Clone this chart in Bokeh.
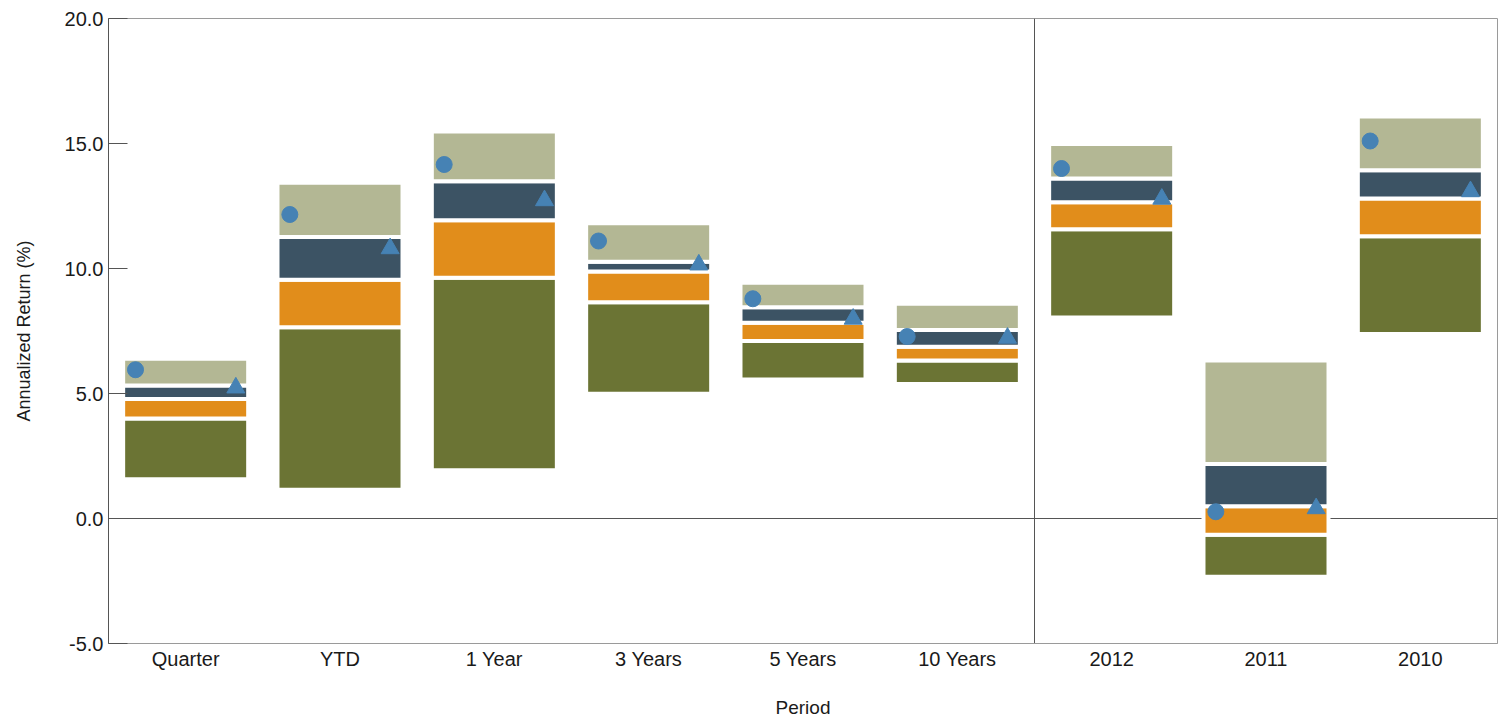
from bokeh.plotting import figure
from bokeh.models import ColumnDataSource, Range1d, FactorRange, Span, FixedTicker, PrintfTickFormatter
from bokeh.transform import dodge
from bokeh.embed import file_html
from bokeh.resources import INLINE

# ---- data ----
periods = ["Quarter", "YTD", "1 Year", "3 Years", "5 Years", "10 Years", "2012", "2011", "2010"]
pct05 = [1.57, 1.15, 1.93, 4.99, 5.56, 5.38, 8.04, -2.33, 7.38]
pct25 = [4.00, 7.65, 9.63, 8.65, 7.10, 6.32, 11.57, -0.65, 11.29]
pct50 = [4.78, 9.55, 11.93, 9.88, 7.83, 6.87, 12.65, 0.49, 12.80]
pct75 = [5.32, 11.26, 13.49, 10.27, 8.45, 7.54, 13.60, 2.18, 13.93]
pct95 = [6.39, 13.43, 15.48, 11.81, 9.43, 8.59, 14.98, 6.32, 16.08]
circle_values = [5.95, 12.16, 14.16, 11.10, 8.79, 7.28, 14.00, 0.27, 15.10]
triangle_values = [5.23, 10.80, 12.72, 10.15, 7.98, 7.22, 12.78, 0.40, 13.08]
y_ticks = [-5, 0, 5, 10, 15, 20]

src = ColumnDataSource(dict(period=periods, p05=pct05, p25=pct25, p50=pct50,
                            p75=pct75, p95=pct95, circ=circle_values, tri=triangle_values))

FONT = "Liberation Sans"
TXT = "#1a1a1a"

p = figure(x_range=FactorRange(*periods, range_padding=0), y_range=Range1d(-5, 20),
           width=1499, height=720, output_backend="svg", toolbar_location=None,
           min_border_left=108, min_border_right=2, min_border_top=18, min_border_bottom=76)
p.background_fill_color = "white"
p.border_fill_color = "white"
p.outline_line_color = "#9a9a9a"
p.outline_line_width = 1
p.xgrid.visible = False
p.ygrid.visible = False

p.add_layout(Span(location=0, dimension="width", line_color="#555555", line_width=1, level="underlay"))
p.add_layout(Span(location=6, dimension="height", line_color="#555555", line_width=1, level="underlay"))

W = 0.81
segs = [("p05", "p25", "#6B7434"), ("p25", "p50", "#E18D1B"),
        ("p50", "p75", "#3C5364"), ("p75", "p95", "#B3B794")]
for b, t, c in segs:
    p.vbar(x="period", bottom=b, top=t, width=W, source=src, fill_color=c,
           line_color="white", line_width=4)

p.scatter(x=dodge("period", -0.325, range=p.x_range), y="circ", source=src,
          marker="circle", size=16, fill_color="#4682B4", line_color="#4682B4")
p.scatter(x=dodge("period", 0.325, range=p.x_range), y="tri", source=src,
          marker="triangle", size=18, fill_color="#4682B4", line_color="#4682B4")

# y axis
ya = p.yaxis[0]
ya.ticker = FixedTicker(ticks=y_ticks)
ya.formatter = PrintfTickFormatter(format="%.1f")
ya.minor_tick_line_color = None
ya.major_tick_in = 19
ya.major_tick_out = 0
ya.major_tick_line_color = "#555555"
ya.axis_line_color = "#555555"
ya.major_label_standoff = 5
ya.major_label_text_font = FONT
ya.major_label_text_font_size = "20px"
ya.major_label_text_color = TXT
ya.axis_label = "Annualized Return (%)"
ya.axis_label_text_font = FONT
ya.axis_label_text_font_size = "18px"
ya.axis_label_text_font_style = "normal"
ya.axis_label_text_color = TXT
ya.axis_label_standoff = 28

# x axis
xa = p.xaxis[0]
xa.major_tick_line_color = None
xa.minor_tick_line_color = None
xa.major_tick_in = 0
xa.major_tick_out = 0
xa.axis_line_color = "#9a9a9a"
xa.major_label_standoff = 4
xa.major_label_text_font = FONT
xa.major_label_text_font_size = "20px"
xa.major_label_text_color = TXT
xa.axis_label = "Period"
xa.axis_label_text_font = FONT
xa.axis_label_text_font_size = "19px"
xa.axis_label_text_font_style = "normal"
xa.axis_label_text_color = TXT
xa.axis_label_standoff = 24

open("out.html", "w").write(file_html(p, INLINE))
